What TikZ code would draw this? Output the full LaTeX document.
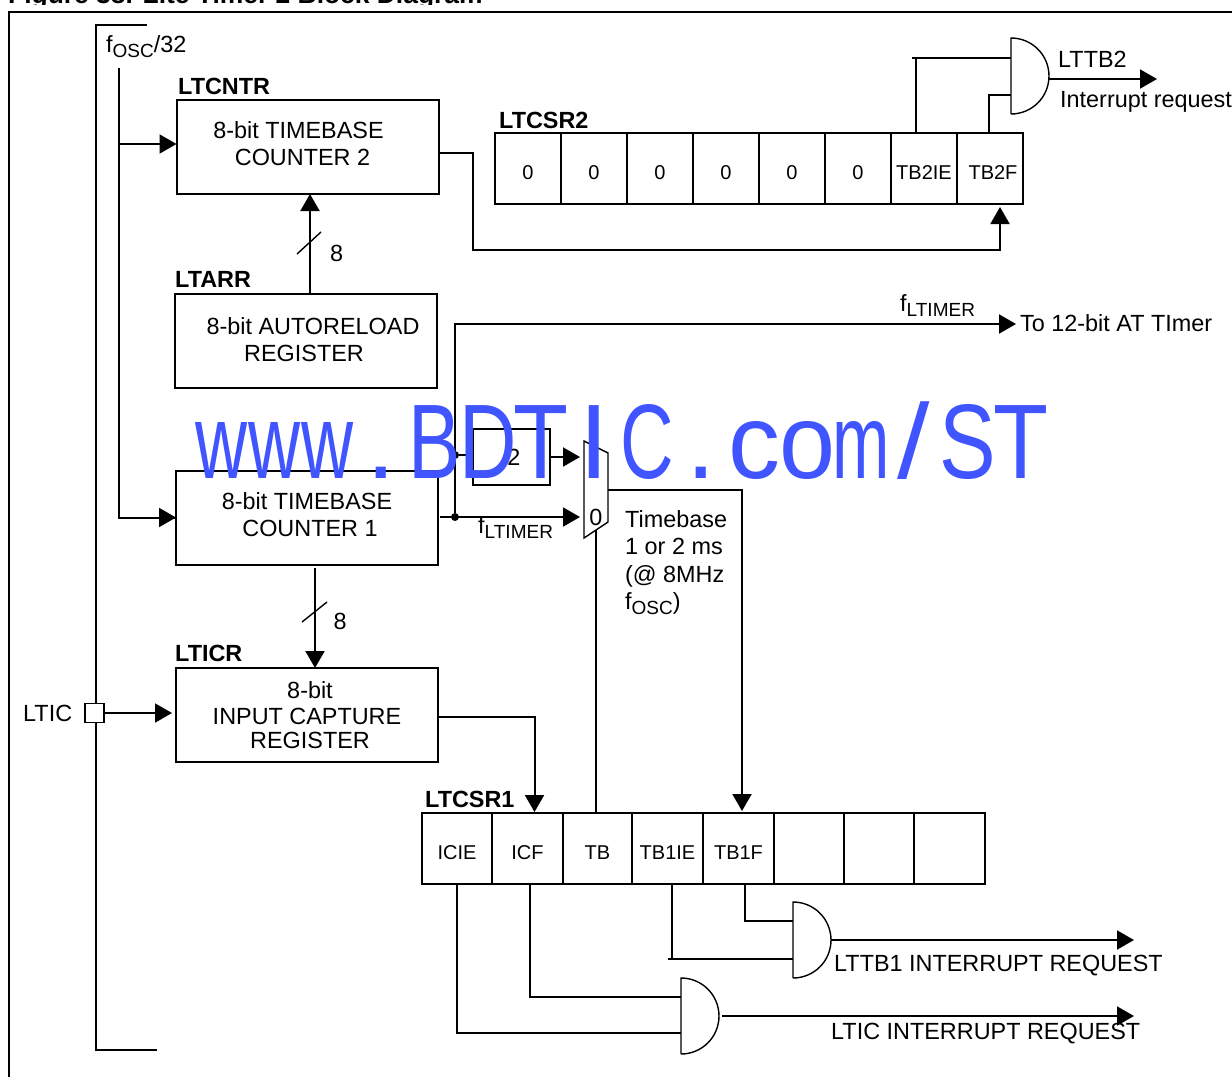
\documentclass[tikz,border=0pt]{standalone}
\usepackage{fontspec}
\setmainfont{Liberation Sans}
\usetikzlibrary{arrows.meta}
\definecolor{Mark}{RGB}{64,85,255}
\newcommand{\labfont}{\fontsize{23.4}{27}\selectfont}
\newcommand{\subtxt}[1]{\raisebox{-5pt}{\fontsize{19}{19}\selectfont #1}}
\newcommand{\wmch}[2]{\makebox[53.3pt]{\scalebox{#1}[1]{#2}}}
\tikzset{
  wire/.style={line width=2pt},
  thinwire/.style={line width=1.4pt},
  feed/.style={wire,-{Triangle[length=17pt,width=19pt]}},
  block/.style={draw,line width=2pt,minimum width=262pt,minimum height=94pt,outer sep=0pt,inner sep=0pt,align=center,font=\labfont},
  regcell/.style={draw,line width=2pt,minimum height=71pt,outer sep=0pt,inner sep=0pt,text height=21pt,text depth=0pt,font=\fontsize{20}{24}\selectfont},
  lab/.style={inner sep=0pt,anchor=base west,font=\labfont},
  reglab/.style={inner sep=0pt,anchor=base west,font=\labfont\bfseries},
  dot/.style={circle,fill=black,inner sep=0pt,minimum size=8pt}
}
\begin{document}
\begin{tikzpicture}[x=1pt,y=-1pt]
  \useasboundingbox (0,0) rectangle (1232,1077);
  \begin{scope}
    \clip (0,0) rectangle (1232,4);
    \node[reglab,font=\fontsize{26.4}{30}\selectfont\bfseries] (figtitle) at (8,3) {Figure 38. Lite Timer 2 Block Diagram};
  \end{scope}
  \draw[wire] (9,1077) -- (9,11.5) -- (1232,11.5);
  \draw[wire] (147,25) -- (96,25) -- (96,1050) -- (157,1050);
  % blocks
  \node[block,text depth=7pt] (ctrTwo) at (307.5,147) {8-bit TIMEBASE\hspace*{18pt}\\COUNTER 2\hspace*{10pt}};
  \node[block,text depth=3pt] (arrBox) at (305.5,341) {\hspace*{15pt}8-bit AUTORELOAD\\REGISTER\hspace*{3pt}};
  \node[block,text depth=6pt] (ctrOne) at (307,517.5) {8-bit TIMEBASE\\\hspace*{6pt}COUNTER 1};
  \node[block] (icrBox) at (307,715) {\hspace*{6pt}8-bit\\[-1pt]INPUT CAPTURE\\[-3pt]\hspace*{6pt}REGISTER};
  \node[draw,line width=2pt,outer sep=0pt,inner sep=0pt,minimum width=77pt,minimum height=56pt,font=\labfont] (divBox) at (511.5,457) {\hspace*{5pt}2};
  \node[reglab] (ctrTwoName) at (178,94) {LTCNTR};
  \node[reglab] (arrName) at (175,287) {LTARR};
  \node[reglab] (icrName) at (175,661) {LTICR};
  \node[reglab] (csrTwoName) at (499,128) {LTCSR2};
  \node[reglab] (csrOneName) at (425,807) {LTCSR1};
  % register cells
  \foreach \nm/\lo/\hi/\lab in {
    csrTa/495/561/0,csrTb/561/627/0,csrTc/627/693/0,csrTd/693/759/0,
    csrTe/759/825/0,csrTf/825/891/0,tbTwoIE/891/957/TB2IE,tbTwoF/957/1023/\hspace*{6pt}TB2F} {
    \node[regcell,minimum width={(\hi-\lo)*1pt}] (\nm) at ({(\lo+\hi)/2},168.5) {\lab};
  }
  \foreach \nm/\lo/\hi/\lab in {
    icIE/422/492/ICIE,icF/492/563/ICF,tbSel/563/632/TB,tbOneIE/632/703/TB1IE,
    tbOneF/703/774/TB1F,csrOf/774/844/{},csrOg/844/914/{},csrOh/914/985/{}} {
    \node[regcell,minimum width={(\hi-\lo)*1pt}] (\nm) at ({(\lo+\hi)/2},848.5) {\lab};
  }
  % and gates
  \foreach \nm/\x/\y in {gateTop/1011/76,gateMid/793/940,gateLow/681/1016} {
    \coordinate (\nm) at (\x,\y);
    \coordinate (\nm A) at (\x,{\y-19});
    \coordinate (\nm B) at (\x,{\y+19});
    \coordinate (\nm O) at ({\x+38},\y);
    \draw[thinwire] (\x,{\y+38}) -- (\x,{\y-38}) arc[start angle=-90,end angle=90,radius=38];
  }
  % multiplexer
  \draw[thinwire] (584,441) -- (608,453) -- (608,522) -- (584,538) -- cycle;
  \node[lab,anchor=center] (muxZero) at (596,517) {0};
  \coordinate (muxInA) at (580,457);
  \coordinate (muxInB) at (580,517);
  \coordinate (muxOut) at (608,490);
  \coordinate (muxLow) at (596,530);
  % clock feed
  \coordinate (foscTop) at (119,68);
  \draw[wire] (foscTop) |- (ctrOne.west);
  \draw[feed] (foscTop |- 0,144) -- ([yshift=3pt]ctrTwo.west);
  \draw[feed] (foscTop |- ctrOne.west) -- (ctrOne.west);
  \node[lab] (foscName) at (106,52) {f\subtxt{OSC}/32};
  % counter 2
  \coordinate (bendA) at (473,250);
  \draw[feed] ([yshift=-6pt]ctrTwo.east) -| (bendA) -| ([xshift=10pt,yshift=-3pt]tbTwoF.south);
  \draw[feed] (arrBox.north -| 310,0) -- ([xshift=2.5pt]ctrTwo.south);
  \draw[thinwire] (297,254) -- (321,232);
  \node[lab] (arrBits) at (330,261) {8};
  % counter 1
  \node[dot] (dotLow) at (455,517) {};
  \node[dot] (dotHigh) at (455,455) {};
  \coordinate (toAT) at (1016,324);
  \draw[feed] (dotLow) |- (toAT);
  \draw[feed] ([xshift=2pt]ctrOne.east |- muxInB) -- (muxInB);
  \draw[wire] (dotHigh) -- (dotHigh -| divBox.west);
  \draw[feed] (divBox.east) -- (muxInA);
  \draw[wire] (muxLow) -- (muxLow |- tbSel.north);
  \draw[feed] (muxOut) -| ([xshift=3.5pt,yshift=2pt]tbOneF.north);
  \draw[feed] ([xshift=8pt,yshift=-3pt]ctrOne.south) -- ([xshift=8pt]icrBox.north);
  \draw[thinwire] (302,622) -- (327,602);
  \node[lab] (icrBits) at (333.5,629) {8};
  \node[lab] (ftimerTop) at (900,311) {f\subtxt{LTIMER}};
  \node[lab] (toATName) at (1020,331) {To 12-bit AT TImer};
  \node[lab] (ftimerLow) at (478,533) {f\subtxt{LTIMER}};
  \node[lab,anchor=north west,align=left,font=\fontsize{23.4}{27.6}\selectfont] (timeNote) at (625,510) {Timebase\\1 or 2 ms\\(@ 8MHz\\f\subtxt{OSC})};
  % input capture
  \node[draw,fill=white,line width=1.6pt,outer sep=0pt,inner sep=0pt,minimum size=19pt] (pinIC) at (94.5,713) {};
  \node[lab] (pinName) at (23,721) {LTIC};
  \coordinate (icrIn) at (172,713);
  \draw[feed] (pinIC.east) -- (icrIn);
  \draw[feed] ([yshift=-2pt]icrBox.east) -| ([xshift=7pt,yshift=1pt]icF.north);
  % interrupt outputs
  \coordinate (stubTop) at (912,58);
  \draw[wire] (stubTop) -- (stubTop -| gateTopA);
  \draw[wire] ([xshift=-8pt]tbTwoIE.north) -- ([xshift=-8pt]tbTwoIE.north |- stubTop);
  \draw[thinwire] (989,133) |- (gateTopB);
  \coordinate (reqTop) at (1157,79);
  \draw[feed] ([yshift=-3pt]gateTopO) -- (reqTop);
  \node[lab] (ttbTwoName) at (1058,67) {LTTB2};
  \node[lab] (reqTopName) at (1060,107) {Interrupt request};
  \draw[thinwire] ([xshift=6.5pt]tbOneF.south) |- (gateMidA);
  \coordinate (stubMid) at (668,959);
  \draw[wire] (stubMid) -- (gateMidB);
  \draw[wire] ([xshift=4.5pt]tbOneIE.south) -- ([xshift=4.5pt]tbOneIE.south |- gateMidB);
  \coordinate (reqMid) at (1134,940);
  \draw[feed] (gateMidO) -- (reqMid);
  \node[lab] (ttbOneName) at (834,971) {LTTB1 INTERRUPT REQUEST};
  \draw[wire] ([xshift=2.5pt]icF.south) |- (gateLowA);
  \draw[wire] (icIE.south) |- ([yshift=2pt]gateLowB);
  \coordinate (reqLow) at (1134,1016);
  \draw[feed] ([xshift=3pt]gateLowO) -- (reqLow);
  \node[lab] (ticName) at (831,1039) {LTIC INTERRUPT REQUEST};
  % watermark
  \node[inner sep=0pt,anchor=base,text=Mark,font=\fontsize{106}{106}\selectfont] (markText) at (621,478)
    {\wmch{.68}{w}\wmch{.68}{w}\wmch{.68}{w}\wmch{1}{.}\wmch{.74}{B}\wmch{.75}{D}\wmch{.85}{T}\wmch{1}{I}\wmch{.7}{C}\wmch{1}{.}\wmch{.98}{c}\wmch{.95}{o}\wmch{.65}{m}\wmch{1.1}{/}\wmch{.8}{S}\wmch{.85}{T}};
\end{tikzpicture}
\end{document}
